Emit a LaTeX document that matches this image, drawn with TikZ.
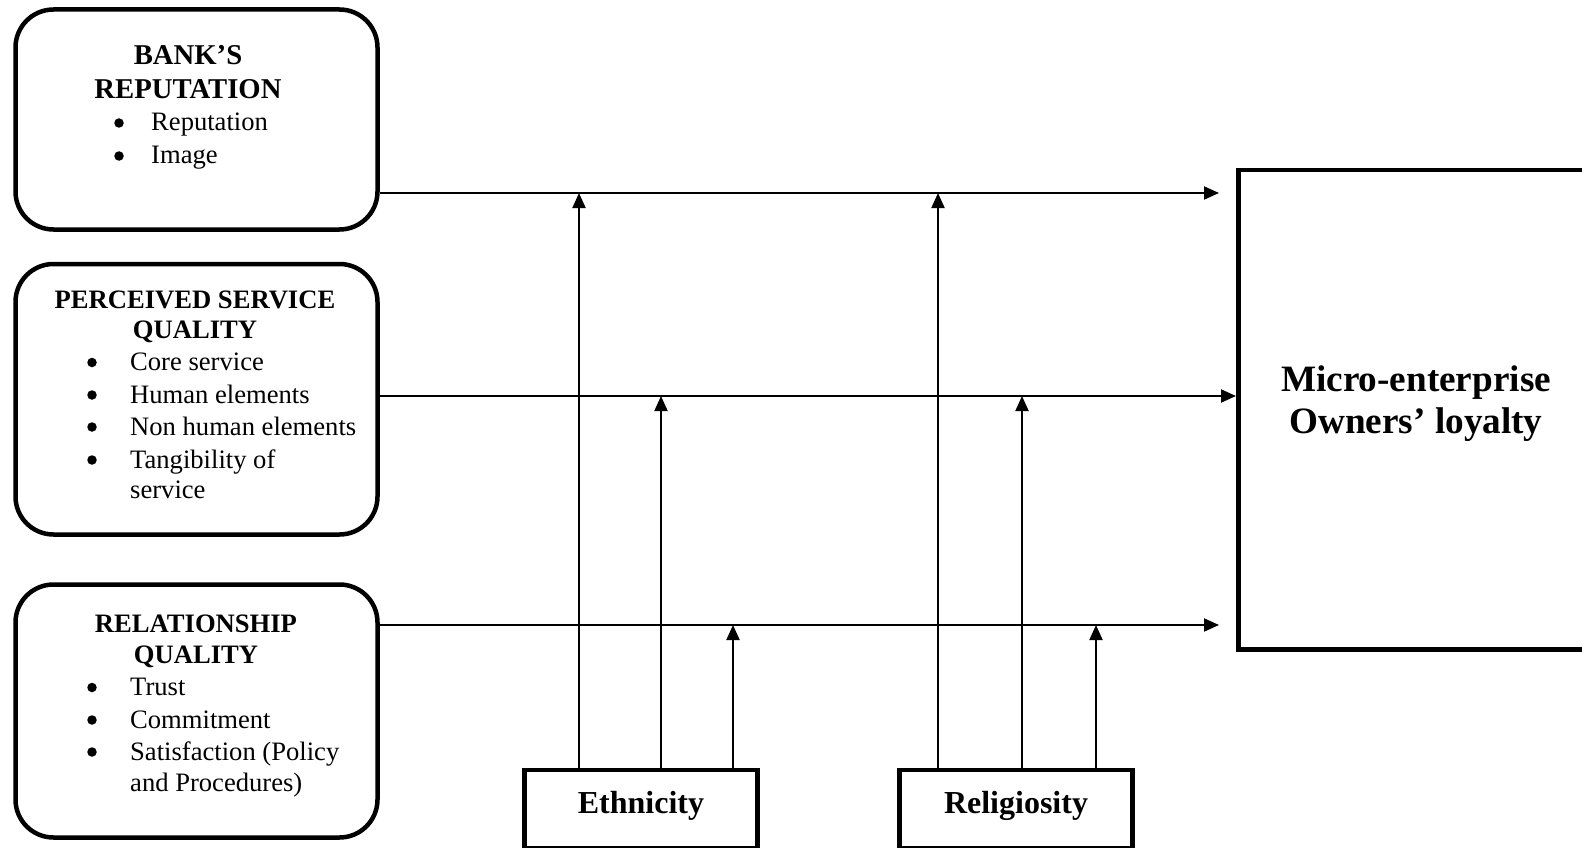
\documentclass[tikz,border=0pt]{standalone}
\usepackage{fontspec}
\setmainfont{Liberation Serif}
\usetikzlibrary{arrows.meta}

\tikzset{
  factorbox/.style={draw, line width=4.5pt, rounded corners=38pt, inner sep=0pt, minimum width=362pt},
  outcomebox/.style={draw, line width=4.5pt, inner sep=0pt},
  modbox/.style={draw, line width=4.5pt, inner sep=0pt, minimum width=233pt, minimum height=78pt},
  modtext/.style={anchor=base, inner sep=0pt, font=\fontsize{32}{38}\selectfont\bfseries},
  outtext/.style={anchor=base, inner sep=0pt, font=\fontsize{37.2}{42}\selectfont\bfseries},
  titletext/.style={anchor=base, inner sep=0pt, font=\fontsize{26.6}{30}\selectfont\bfseries},
  bigtitletext/.style={anchor=base, inner sep=0pt, font=\fontsize{28.7}{32}\selectfont\bfseries},
  itemtext/.style={anchor=base west, inner sep=0pt, font=\fontsize{26.6}{30}\selectfont},
  bulletmark/.style={circle, fill, inner sep=0pt, minimum size=9.5pt, yshift=8pt},
  link/.style={line width=2pt, -{Triangle[length=15pt,width=13pt]}},
}

\begin{document}
\begin{tikzpicture}[x=1pt, y=-1pt]
\useasboundingbox (0,0) rectangle (1582,848);

% predictor boxes
\node[factorbox, minimum height=220pt] (rep) at (196.5,119.5) {};
\node[factorbox, minimum height=270.5pt] (psq) at (196.5,399.25) {};
\node[factorbox, minimum height=253pt] (rq) at (196.5,711) {};

% outcome box (its right side runs past the page edge)
\node[outcomebox, minimum width=353pt, minimum height=479.5pt] (out) at (1415,409.75) {};
\node[outtext] (outl1) at (1416,391) {Micro-enterprise};
\node[outtext] (outl2) at (1416,433) {Owners’ loyalty};

% moderator boxes
\node[modbox] (eth) at (641,809) {};
\node[modtext] (ethl) at (641,813) {Ethnicity};
\node[modbox] (rel) at (1016,809) {};
\node[modtext] (rell) at (1016,813) {Religiosity};

% bank's reputation
\node[bigtitletext] (repa) at (188,65) {BANK’S};
\node[bigtitletext] (repb) at (188,99) {REPUTATION};
\node[bulletmark] (repd1) at (119,131) {};
\node[itemtext] (repi1) at (151,131) {Reputation};
\node[bulletmark] (repd2) at (119,164) {};
\node[itemtext] (repi2) at (151,164) {Image};

% perceived service quality
\node[titletext] (psqa) at (195,308) {PERCEIVED SERVICE};
\node[titletext] (psqb) at (195,338.5) {QUALITY};
\node[bulletmark] (psqd1) at (92,370.5) {};
\node[itemtext] (psqi1) at (130,370.5) {Core service};
\node[bulletmark] (psqd2) at (92,403) {};
\node[itemtext] (psqi2) at (130,403) {Human elements};
\node[bulletmark] (psqd3) at (92,435) {};
\node[itemtext] (psqi3) at (130,435) {Non human elements};
\node[bulletmark] (psqd4) at (92,468) {};
\node[itemtext] (psqi4) at (130,468) {Tangibility of};
\node[itemtext] (psqi4b) at (130,498.5) {service};

% relationship quality
\node[titletext] (rqa) at (196,632) {RELATIONSHIP};
\node[titletext] (rqb) at (196,663) {QUALITY};
\node[bulletmark] (rqd1) at (92,695.5) {};
\node[itemtext] (rqi1) at (130,695.5) {Trust};
\node[bulletmark] (rqd2) at (92,728) {};
\node[itemtext] (rqi2) at (130,728) {Commitment};
\node[bulletmark] (rqd3) at (92,760) {};
\node[itemtext] (rqi3) at (130,760) {Satisfaction (Policy};
\node[itemtext] (rqi3b) at (130,791.5) {and Procedures)};

% arrow ends and moderating points
\coordinate (t1) at (1219,193);
\coordinate (t2) at (1236,396);
\coordinate (t3) at (1219,625);
\coordinate (e1) at (579,193);
\coordinate (e2) at (661,396);
\coordinate (e3) at (733,625);
\coordinate (r1) at (938,193);
\coordinate (r2) at (1022,396);
\coordinate (r3) at (1096,625);

% direct paths
\draw[link] (t1 -| rep.east) -- (t1);
\draw[link] (t2 -| psq.east) -- (t2);
\draw[link] (t3 -| rq.east) -- (t3);

% moderating effects
\draw[link] (e1 |- eth.north) -- (e1);
\draw[link] (e2 |- eth.north) -- (e2);
\draw[link] (e3 |- eth.north) -- (e3);
\draw[link] (r1 |- rel.north) -- (r1);
\draw[link] (r2 |- rel.north) -- (r2);
\draw[link] (r3 |- rel.north) -- (r3);
\end{tikzpicture}
\end{document}
